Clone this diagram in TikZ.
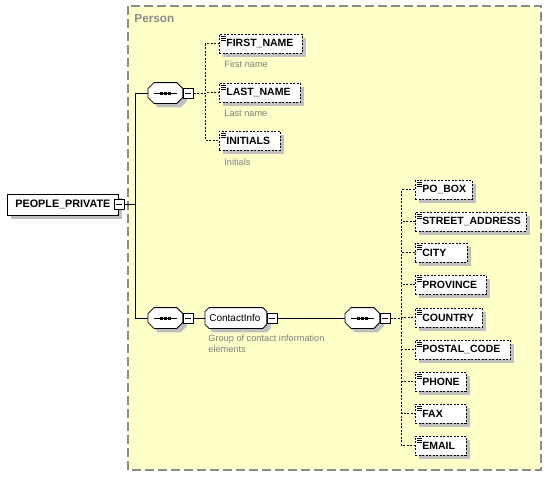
\documentclass[tikz,border=0pt]{standalone}
\usepackage{fontspec}
\setsansfont{Liberation Sans}
\usetikzlibrary{positioning,shadows}
\definecolor{grpfill}{HTML}{FFFFC8}
\definecolor{grpline}{HTML}{8C8C8C}
\definecolor{shade}{HTML}{C0C0C0}
\definecolor{doctext}{HTML}{808080}
\newcommand{\octbox}[2][5]{%
  \draw[shade, fill=white] ([xshift=#1]#2.north west) -- ([xshift=-#1]#2.north east)
    -- ([yshift=-#1]#2.north east) -- ([yshift=#1]#2.south east)
    -- ([xshift=-#1]#2.south east) -- ([xshift=#1]#2.south west)
    -- ([yshift=#1]#2.south west) -- ([yshift=-#1]#2.north west) -- cycle;}
\newcommand{\seqicon}[1]{%
  \draw ([xshift=6]#1.west) -- ([xshift=-6]#1.east);
  \foreach \d in {-4,0,4} \fill ([xshift=\d]#1.center) +(-1.5,-1.5) rectangle +(1.5,1.5);}
\tikzset{
  shade/.style={drop shadow={shadow xshift=4pt, shadow yshift=-4pt, opacity=1, fill=shade}},
  elem/.style={draw, shade, fill=white, dash pattern=on 2pt off 1.5pt, anchor=west,
    font=\sffamily\bfseries\fontsize{10.5}{12}\selectfont, minimum height=19,
    text width=#1-8pt, inner xsep=4pt, inner ysep=0pt, align=left,
    execute at begin node=\hspace*{3pt},
    path picture={\foreach \d in {2,4,6}
      \draw[solid, line width=0.7pt] ([xshift=1.5,yshift=-\d]path picture bounding box.north west) -- ++(5,0);}},
  root/.style={draw, shade, fill=white, anchor=west, font=\sffamily\bfseries\fontsize{10.8}{12}\selectfont,
    minimum width=111, minimum height=21, inner sep=0pt},
  seq/.style={anchor=west, minimum width=34, minimum height=20, inner sep=0pt},
  grp/.style={anchor=west, minimum width=61, minimum height=20, inner sep=0pt},
  grplabel/.style={font=\sffamily\fontsize{10}{11}\selectfont, inner sep=0pt},
  minus/.style={draw, fill=white, minimum size=10, inner sep=0pt,
    path picture={\draw ([xshift=2]path picture bounding box.west) -- ([xshift=-2]path picture bounding box.east);}},
  doc/.style={anchor=west, text=doctext, font=\sffamily\fontsize{9.2}{11}\selectfont, inner sep=0pt},
  link/.style={dash pattern=on 2pt off 1.5pt}
}
\begin{document}
\begin{tikzpicture}[x=1pt, y=-1pt, line width=0.8pt]
\useasboundingbox (0,0) rectangle (560,477);
\fill[grpfill] (128,6) rectangle (541,470);
\draw[grpline, line width=1.5pt, dash pattern=on 9pt off 4pt] (128,6) rectangle (541,470);
\node[anchor=west, text=grpline, font=\sffamily\bfseries\fontsize{11.8}{13}\selectfont, inner sep=0pt] (person) at (134,18) {Person};

\node[root] (pp) at (7,204.5) {PEOPLE\_PRIVATE};
\node[minus, right=-5pt of pp] (ppm) {};

\node[seq] (seqa) at (148,93) {};
\octbox[6]{seqa} \seqicon{seqa}
\node[minus, right=0pt of seqa] (seqam) {};
\node[elem=83] (first) at (219,43.5) {FIRST\_NAME};
\node[elem=81] (last) at (219,92.5) {LAST\_NAME};
\node[elem=61] (init) at (219,140.5) {INITIALS};
\node[doc] (firstdoc) at (224,64) {First name};
\node[doc] (lastdoc) at (224,113) {Last name};
\node[doc] (initdoc) at (224,162) {Initials};

\node[seq] (seqb) at (148,318) {};
\octbox[6]{seqb} \seqicon{seqb}
\node[minus, right=0pt of seqb] (seqbm) {};
\node[grp] (ci) at (205,318) {};
\octbox[4]{ci}
\node[grplabel] (cilabel) at ([xshift=-1]ci.center) {ContactInfo};
\node[minus, right=0pt of ci] (cim) {};
\node[doc, anchor=north west, align=left] (cidoc) at (208,334) {Group of contact information\\elements};

\node[seq] (seqc) at (345,318) {};
\octbox[6]{seqc} \seqicon{seqc}
\node[minus, right=0pt of seqc] (seqcm) {};
\node[elem=57] (pobox) at (415,189.5) {PO\_BOX};
\node[elem=111] (street) at (415,221.5) {STREET\_ADDRESS};
\node[elem=52] (city) at (415,252.5) {CITY};
\node[elem=71] (prov) at (415,284.5) {PROVINCE};
\node[elem=67] (country) at (415,317.5) {COUNTRY};
\node[elem=95] (postal) at (415,349.5) {POSTAL\_CODE};
\node[elem=51] (phone) at (415,381.5) {PHONE};
\node[elem=51] (fax) at (415,413.5) {FAX};
\node[elem=51] (email) at (415,445.5) {EMAIL};

\draw (ppm.east) -- ++(11,0) |- (seqa.west);
\draw (ppm.east) -- ++(11,0) |- (seqb.west);
\foreach \e in {first,last,init}
  \draw[link] (seqam.east) -- ++(12,0) |- (\e.west);
\draw (seqbm.east) -- (ci.west);
\draw (cim.east) -- (seqc.west);
\foreach \e in {pobox,street,city,prov,country,postal,phone,fax,email}
  \draw[link] (seqcm.east) -- ++(11,0) |- (\e.west);
\end{tikzpicture}
\end{document}
